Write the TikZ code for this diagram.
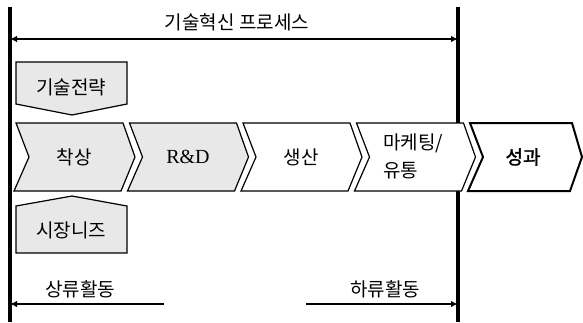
\documentclass[tikz,border=0pt]{standalone}
\usepackage{fontspec}
\setmainfont{Noto Sans CJK KR}
\newfontfamily\rdserif{Liberation Serif}
\newfontfamily\krsemibold[FakeBold=1.6]{Noto Sans CJK KR}
\usetikzlibrary{arrows.meta}
\definecolor{boxgray}{RGB}{232,232,232}
\begin{document}
\begin{tikzpicture}[x=1pt,y=-1pt,
  vline/.style={line width=3.2pt},
  harrow/.style={line width=2.2pt},
  tipA/.style={{Latex[length=7pt,width=6.5pt]}-{Latex[length=7pt,width=6.5pt]}},
  chev/.style={draw, line width=1.2pt, line join=miter},
  grayfill/.style={fill=boxgray},
  lbl/.style={font=\fontsize{19}{28}\selectfont, inner sep=0pt}
]
\useasboundingbox (0,0) rectangle (583,322);

% vertical boundary lines
\coordinate (lt) at (10,7);
\coordinate (lb) at (10,322);
\coordinate (rt) at (458,7);
\coordinate (rb) at (458,322);
\draw[vline] (lt) -- (lb);
\draw[vline] (rt) -- (rb);

% top process arrow
\coordinate (pa) at (10,39);
\coordinate (pb) at (458,39);
\draw[harrow,tipA] (pa) -- (pb);
\node[lbl] (title) at (237,22) {기술혁신 프로세스};

% top box
\draw[chev,grayfill] (16,62) -- (127,62) -- (127,104) -- (72,115) -- (16,104) -- cycle;
\node[lbl] (strat) at (71,87) {기술전략};

% chevrons
\draw[chev,grayfill] (16,123) -- (123,123) -- (135,157) -- (121,191) -- (14,191) -- (29,157) -- cycle;
\node[lbl] (c1) at (74,157) {착상};
\draw[chev,grayfill] (129.5,123) -- (236.5,123) -- (248.5,157) -- (234.5,191) -- (127.5,191) -- (142.5,157) -- cycle;
\node[lbl,font=\rdserif\fontsize{20}{20}\selectfont] (c2) at (188,157) {R\&D};
\draw[chev,fill=white] (243,123) -- (350,123) -- (362,157) -- (348,191) -- (241,191) -- (256,157) -- cycle;
\node[lbl] (c3) at (301,157) {생산};
\draw[chev,fill=white] (356.5,123) -- (463.5,123) -- (475.5,157) -- (461.5,191) -- (354.5,191) -- (369.5,157) -- cycle;
\node[lbl,align=left,anchor=west] (c4) at (383,156) {마케팅/\\유통};
\draw[chev,fill=white,line width=2pt] (470,123) -- (572,123) -- (582,157) -- (570,191) -- (468,191) -- (483,157) -- cycle;
\node[lbl,font=\krsemibold\fontsize{19}{20}\selectfont] (c5) at (523,157) {성과};

% bottom box
\draw[chev,grayfill] (16,206) -- (72,196) -- (127,206) -- (127,253) -- (16,253) -- cycle;
\node[lbl] (needs) at (71,230) {시장니즈};

% upstream / downstream
\coordinate (ua) at (10,304);
\coordinate (ub) at (164,304);
\draw[harrow,{Latex[length=7pt,width=6.5pt]}-] (ua) -- (ub);
\node[lbl] (up) at (80,289) {상류활동};
\coordinate (da) at (306,304);
\coordinate (db) at (458,304);
\draw[harrow,-{Latex[length=7pt,width=6.5pt]}] (da) -- (db);
\node[lbl] (down) at (385,289) {하류활동};
\end{tikzpicture}
\end{document}
